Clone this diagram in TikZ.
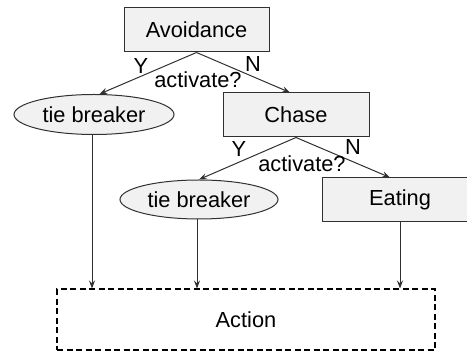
\documentclass[tikz,border=0pt]{standalone}
\usepackage{fontspec}
\setmainfont{Liberation Sans}
\usepackage{tikz}
\usetikzlibrary{
  arrows.meta,%
  shapes.geometric,%
  positioning
}
\tikzset{>={Stealth[length=8pt,width=6pt,inset=3pt]}}
\tikzset{font=\fontsize{21.8}{24}\selectfont}
\definecolor{boxfill}{HTML}{F1F1F1}
\definecolor{linegray}{HTML}{303030}
\tikzset{
  behav/.style={draw=linegray, fill=boxfill, line width=1pt,
    minimum height=44pt, inner sep=0pt},
  tiebox/.style={ellipse, draw=linegray, fill=boxfill, line width=1pt,
    minimum width=160pt, minimum height=40pt, inner sep=0pt},
  actbox/.style={draw=black, line width=2pt, dash pattern=on 6pt off 3.5pt,
    minimum width=378pt, minimum height=61pt},
  flow/.style={->, draw=linegray, line width=1pt},
  lbl/.style={inner sep=0pt}
}

\begin{document}
\begin{tikzpicture}[x=1pt, y=-1pt]
  \useasboundingbox (0,0) rectangle (467,352);
  % behaviours
  \node[behav, minimum width=145pt] (avoid) at (196.5,30) {Avoidance};
  \node[tiebox] (tie1) at (94,114.5) {tie breaker};
  \node[behav, minimum width=146pt] (chase) at (296,115) {Chase};
  \node[tiebox, minimum width=158pt, minimum height=39pt] (tie2) at (199,199.5) {tie breaker};
  \node[behav, minimum width=156pt] (eat) at (400,200) {Eating};
  \node[actbox] (action) at (246,320) {Action};
  % first decision
  \draw[flow] (avoid.south) -- (tie1.75);
  \draw[flow] (avoid.south) -- ([xshift=-6pt]chase.north);
  \node[lbl] (y1) at (141,66) {Y};
  \node[lbl] (n1) at (253,64) {N};
  \node[lbl] (q1) at (198,80) {activate?};
  % second decision
  \draw[flow] (chase.south) -- (tie2.north);
  \draw[flow] (chase.south) -- ([xshift=-10pt]eat.north);
  \node[lbl] (y2) at (239,149) {Y};
  \node[lbl] (n2) at (353,147.5) {N};
  \node[lbl] (q2) at (302,163.5) {activate?};
  % into the action
  \foreach \src/\dx in {tie1/-2, tie2/-2, eat/0}
    \draw[flow] ([xshift=\dx pt]\src.south) -- ([xshift=\dx pt]\src.south |- action.north);
\end{tikzpicture}
\end{document}
